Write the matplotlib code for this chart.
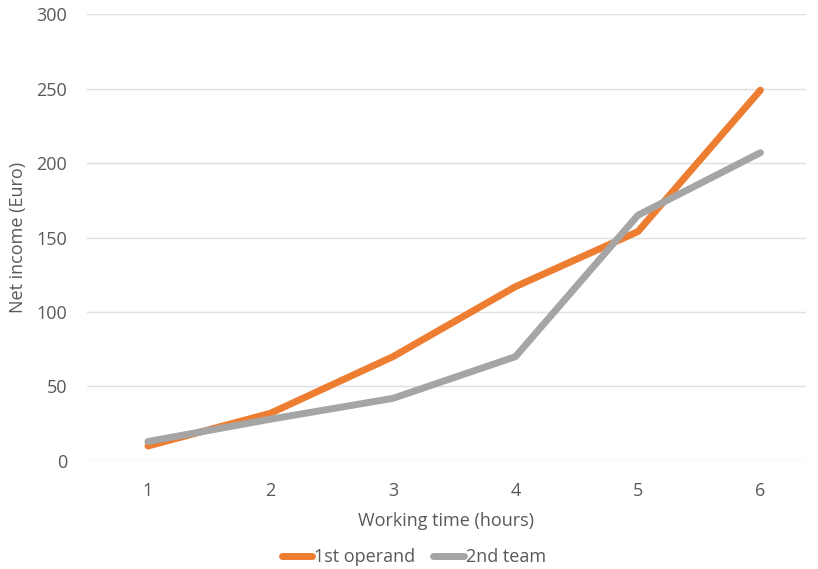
import matplotlib.pyplot as plt

hours = [1, 2, 3, 4, 5, 6]
operand = [10, 32, 70, 117, 154, 249]
team = [13, 28, 42, 70, 165, 207]

plt.rcParams['font.family'] = ['Open Sans', 'DejaVu Sans']
txt = '#595959'

fig = plt.figure(figsize=(8.18, 5.69), dpi=100)
ax = fig.add_axes([0.106, 0.19, 0.879, 0.785])

ax.plot(hours, operand, color='#ED7D31', lw=5, solid_capstyle='round',
        solid_joinstyle='round', label='1st operand')
ax.plot(hours, team, color='#A5A5A5', lw=5, solid_capstyle='round',
        solid_joinstyle='round', label='2nd team')

ax.set_xlim(0.5, 6.37)
ax.set_ylim(0, 300)
ax.set_yticks(range(0, 301, 50))
ax.set_xticks(hours)
ax.grid(axis='y', color='#E0E0E0', lw=1)
ax.set_axisbelow(True)
for s in ax.spines.values():
    s.set_visible(False)
ax.tick_params(length=0, colors=txt, labelsize=13)
ax.tick_params(axis='y', pad=14)
ax.tick_params(axis='x', pad=15)

ax.set_xlabel('Working time (hours)', color=txt, fontsize=13, labelpad=9)
ax.set_ylabel('Net income (Euro)', color=txt, fontsize=13, labelpad=7)

leg = fig.legend(loc='lower center', bbox_to_anchor=(0.506, -0.024), ncol=2,
                 frameon=False, fontsize=13, handlelength=1.7,
                 handletextpad=0.1, columnspacing=1.0)
for t in leg.get_texts():
    t.set_color(txt)

fig.savefig('out.png', dpi=100)
